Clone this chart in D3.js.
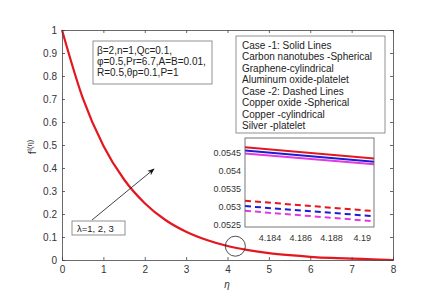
<!DOCTYPE html>
<html><head><meta charset="utf-8">
<script src="https://cdn.jsdelivr.net/npm/d3@7"></script>
<style>body{margin:0;background:#fff}svg{display:block}text{font-family:"Liberation Sans",Arial,sans-serif}</style>
</head><body><svg id="c" width="427" height="299"></svg>
<script>
// main curve f'(eta) (three lambda curves overlap at this scale)
const eta = [0,0.5,1,1.5,2,2.5,3,3.5,4,4.5,5,5.5,6,6.5,7,7.5,8];
const fPrime = [1,0.705,0.497,0.35,0.247,0.174,0.123,0.087,0.061,0.043,0.03,0.021,0.014,0.009,0.006,0.003,0.0];
const xTicks = [0,1,2,3,4,5,6,7,8];
const yTicks = [0,0.1,0.2,0.3,0.4,0.5,0.6,0.7,0.8,0.9,1];
// inset zoom
const insetX = [4.1824, 4.1908];
const case1Red = [0.05465, 0.05434];
const case1Blue = [0.05456, 0.05425];
const case1Magenta = [0.05448, 0.05418];
const case2Red = [0.05317, 0.05288];
const case2Blue = [0.05302, 0.05274];
const case2Magenta = [0.05289, 0.0526];
const insetXTicks = [4.184,4.186,4.188,4.19];
const insetYTicks = [0.0525,0.053,0.0535,0.054,0.0545];
const legendLines = ["Case -1: Solid Lines","Carbon nanotubes -Spherical","Graphene-cylindrical","Aluminum oxide-platelet","Case -2: Dashed Lines","Copper oxide -Spherical","Copper -cylindrical","Silver -platelet"];
const paramLines = ["β=2,n=1,Qc=0.1,","φ=0.5,Pr=6.7,A=B=0.01,","R=0.5,θp=0.1,P=1"];
const lambdaLabel = "λ=1, 2, 3";

const svg = d3.select("#c");
const axCol = "#444", txtCol = "#333";
const x = d3.scaleLinear().domain([0,8]).range([62,393]);
const y = d3.scaleLinear().domain([0,1]).range([260,30]);

svg.append("defs").append("marker").attr("id","ah").attr("viewBox","0 0 10 10").attr("refX",9).attr("refY",5)
  .attr("markerWidth",9).attr("markerHeight",9).attr("orient","auto-start-reverse")
  .append("path").attr("d","M0,1 L10,5 L0,9 L3,5 Z").attr("fill","#111");

// curve
svg.append("path").datum(eta.map((e,i)=>[e,fPrime[i]]))
  .attr("d", d3.line().x(d=>x(d[0])).y(d=>y(d[1])).curve(d3.curveMonotoneX))
  .attr("fill","none").attr("stroke","#e4161e").attr("stroke-width",2.2);

// axes
const gx = svg.append("g").attr("transform","translate(0,260)").call(d3.axisBottom(x).tickValues(xTicks).tickSize(-3).tickPadding(6).tickFormat(d3.format("d")));
const gy = svg.append("g").attr("transform","translate(62,0)").call(d3.axisLeft(y).tickValues(yTicks).tickSize(-3).tickPadding(5).tickFormat(d=>d===0||d===1?d3.format("d")(d):d3.format(".1f")(d)));
const gx2 = svg.append("g").attr("transform","translate(0,30)").call(d3.axisTop(x).tickValues(xTicks).tickSize(-3).tickFormat(""));
const gy2 = svg.append("g").attr("transform","translate(393,0)").call(d3.axisRight(y).tickValues(yTicks).tickSize(-3).tickFormat(""));
[gx,gy,gx2,gy2].forEach(g=>{g.select(".domain").attr("stroke",axCol).attr("stroke-width",0.8);g.selectAll("line").attr("stroke",axCol).attr("stroke-width",0.8);g.selectAll("text").attr("fill",txtCol).attr("font-size",10).attr("font-family","Liberation Sans, Arial, sans-serif");});

// axis labels
svg.append("text").attr("x",227).attr("y",288).attr("text-anchor","middle").attr("font-size",10).attr("font-style","italic").attr("fill",txtCol).text("η");
const yl = svg.append("text").attr("transform","translate(36,147) rotate(-90)").attr("text-anchor","middle").attr("fill",txtCol).attr("font-size",11);
yl.append("tspan").text("f");
yl.append("tspan").attr("font-size",7.5).attr("dy",-4).text("I");
yl.append("tspan").attr("font-size",7.5).text("(η)");

// circle highlighting inset region
svg.append("circle").attr("cx",x(4.19)).attr("cy",y(0.06)).attr("r",10).attr("fill","none").attr("stroke","#222").attr("stroke-width",0.8);

// parameter box
svg.append("rect").attr("x",93).attr("y",41).attr("width",119).attr("height",43).attr("fill","#fff").attr("stroke","#777").attr("stroke-width",0.8);
paramLines.forEach((t,i)=>svg.append("text").attr("x",97).attr("y",54+i*11).attr("font-size",10).attr("fill","#222").text(t));

// legend box
svg.append("rect").attr("x",236).attr("y",36).attr("width",149).attr("height",97).attr("fill","#fff").attr("stroke","#777").attr("stroke-width",0.8);
legendLines.forEach((t,i)=>svg.append("text").attr("x",242).attr("y",48.5+i*11.55).attr("font-size",10).attr("fill","#222").text(t));

// lambda box & arrow
svg.append("line").attr("x1",92).attr("y1",220).attr("x2",154).attr("y2",169).attr("stroke","#111").attr("stroke-width",0.8).attr("marker-end","url(#ah)");
svg.append("rect").attr("x",72).attr("y",221).attr("width",53).attr("height",14).attr("fill","#fff").attr("stroke","#777").attr("stroke-width",0.8);
svg.append("text").attr("x",77).attr("y",232).attr("font-size",9.5).attr("fill","#222").text(lambdaLabel);

// inset
const xi = d3.scaleLinear().domain(insetX).range([245,374]);
const yi = d3.scaleLinear().domain([0.05244,0.05491]).range([227,138]);
svg.append("rect").attr("x",245).attr("y",138).attr("width",129).attr("height",89).attr("fill","#fff");
const series = [
  {v:case1Red,c:"#e4161e",d:null},{v:case1Blue,c:"#1c1cd4",d:null},{v:case1Magenta,c:"#e23ae2",d:null},
  {v:case2Red,c:"#e4161e",d:"6,4"},{v:case2Blue,c:"#1c1cd4",d:"6,4"},{v:case2Magenta,c:"#e23ae2",d:"6,4"}];
const il = d3.line().x(d=>xi(d[0])).y(d=>yi(d[1]));
series.forEach(s=>svg.append("path").datum(insetX.map((xx,i)=>[xx,s.v[i]])).attr("d",il)
  .attr("fill","none").attr("stroke",s.c).attr("stroke-width",2).attr("stroke-dasharray",s.d));
const gix = svg.append("g").attr("transform","translate(0,227)").call(d3.axisBottom(xi).tickValues(insetXTicks).tickSize(0).tickPadding(8).tickFormat(d=>String(d)));
const giy = svg.append("g").attr("transform","translate(245,0)").call(d3.axisLeft(yi).tickValues(insetYTicks).tickSize(0).tickPadding(4).tickFormat(d=>String(d)));
[gix,giy].forEach(g=>{g.select(".domain").remove();g.selectAll("text").attr("fill",txtCol).attr("font-size",9).attr("font-family","Liberation Sans, Arial, sans-serif");});
svg.append("rect").attr("x",245).attr("y",138).attr("width",129).attr("height",89).attr("fill","none").attr("stroke","#555").attr("stroke-width",0.8);
</script></body></html>
